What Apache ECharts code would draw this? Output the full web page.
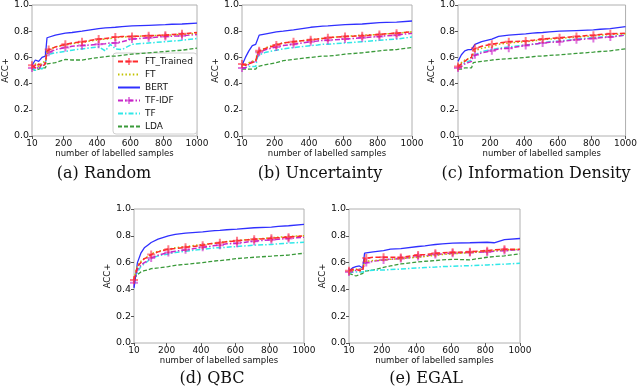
<!DOCTYPE html>
<html>
<head>
<meta charset="utf-8">
<script src="https://cdn.jsdelivr.net/npm/echarts@6/dist/echarts.min.js"></script>
<style>
html, body { margin: 0; padding: 0; background: #fff; }
#main { width: 640px; height: 388px; }
</style>
</head>
<body>
<div id="main"></div>
<script>
var samples = [10, 30, 50, 70, 90, 100, 110, 150, 210, 250, 310, 410, 450, 480, 510, 550, 610, 710, 810, 850, 910, 1000];
var markerSamples = [10, 110, 210, 310, 410, 510, 610, 710, 810, 910];
var xTicks = [10, 200, 400, 600, 800, 1000];
var methods = ['FT_Trained', 'FT', 'BERT', 'TF-IDF', 'TF', 'LDA'];
var captions = ['(a) Random', '(b) Uncertainty', '(c) Information Density', '(d) QBC', '(e) EGAL'];

// (a) Random
var randomFTTrained = [0.54, 0.52, 0.55, 0.53, 0.55, 0.65, 0.66, 0.68, 0.70, 0.71, 0.72, 0.74, 0.745, 0.75, 0.755, 0.76, 0.76, 0.765, 0.77, 0.775, 0.78, 0.79];
var randomFT        = [0.53, 0.55, 0.53, 0.56, 0.57, 0.64, 0.66, 0.68, 0.695, 0.705, 0.715, 0.735, 0.74, 0.745, 0.75, 0.755, 0.76, 0.765, 0.77, 0.772, 0.775, 0.785];
var randomBERT      = [0.54, 0.58, 0.57, 0.60, 0.61, 0.75, 0.76, 0.77, 0.785, 0.79, 0.80, 0.82, 0.825, 0.828, 0.83, 0.835, 0.84, 0.845, 0.85, 0.853, 0.855, 0.862];
var randomTFIDF     = [0.52, 0.54, 0.51, 0.55, 0.56, 0.63, 0.64, 0.66, 0.675, 0.685, 0.69, 0.70, 0.705, 0.71, 0.71, 0.72, 0.74, 0.75, 0.76, 0.762, 0.765, 0.775];
var randomTF        = [0.52, 0.50, 0.53, 0.51, 0.55, 0.62, 0.63, 0.635, 0.645, 0.655, 0.665, 0.68, 0.65, 0.70, 0.665, 0.66, 0.70, 0.71, 0.72, 0.725, 0.73, 0.745];
var randomLDA       = [0.51, 0.50, 0.51, 0.52, 0.52, 0.55, 0.555, 0.56, 0.585, 0.58, 0.58, 0.60, 0.605, 0.61, 0.61, 0.615, 0.625, 0.635, 0.645, 0.65, 0.655, 0.67];

// (b) Uncertainty
var uncertFTTrained = [0.55, 0.54, 0.55, 0.56, 0.57, 0.63, 0.65, 0.67, 0.695, 0.71, 0.72, 0.735, 0.74, 0.745, 0.75, 0.755, 0.76, 0.765, 0.775, 0.78, 0.785, 0.795];
var uncertFT        = [0.54, 0.54, 0.56, 0.57, 0.58, 0.64, 0.655, 0.675, 0.70, 0.71, 0.72, 0.735, 0.74, 0.745, 0.75, 0.755, 0.76, 0.77, 0.775, 0.78, 0.785, 0.795];
var uncertBERT      = [0.54, 0.60, 0.65, 0.69, 0.70, 0.70, 0.77, 0.78, 0.795, 0.80, 0.81, 0.83, 0.835, 0.838, 0.84, 0.845, 0.85, 0.855, 0.865, 0.868, 0.87, 0.878];
var uncertTFIDF     = [0.52, 0.52, 0.55, 0.57, 0.56, 0.62, 0.64, 0.66, 0.68, 0.69, 0.70, 0.72, 0.725, 0.73, 0.73, 0.735, 0.74, 0.75, 0.76, 0.765, 0.77, 0.785];
var uncertTF        = [0.52, 0.52, 0.53, 0.53, 0.53, 0.60, 0.62, 0.64, 0.655, 0.665, 0.675, 0.69, 0.695, 0.70, 0.70, 0.705, 0.71, 0.72, 0.73, 0.735, 0.74, 0.755];
var uncertLDA       = [0.51, 0.51, 0.51, 0.51, 0.51, 0.53, 0.535, 0.545, 0.56, 0.575, 0.585, 0.60, 0.605, 0.61, 0.61, 0.615, 0.625, 0.635, 0.65, 0.655, 0.66, 0.675];

// (c) Information Density
var densFTTrained = [0.53, 0.55, 0.57, 0.59, 0.60, 0.66, 0.67, 0.685, 0.70, 0.71, 0.72, 0.725, 0.73, 0.735, 0.74, 0.745, 0.75, 0.76, 0.77, 0.775, 0.78, 0.785];
var densFT        = [0.54, 0.56, 0.58, 0.59, 0.60, 0.63, 0.65, 0.67, 0.685, 0.70, 0.71, 0.72, 0.725, 0.73, 0.735, 0.74, 0.745, 0.755, 0.765, 0.77, 0.775, 0.78];
var densBERT      = [0.57, 0.62, 0.65, 0.66, 0.66, 0.67, 0.70, 0.72, 0.74, 0.76, 0.77, 0.78, 0.785, 0.788, 0.79, 0.795, 0.80, 0.805, 0.81, 0.815, 0.82, 0.835];
var densTFIDF     = [0.52, 0.53, 0.55, 0.56, 0.57, 0.61, 0.62, 0.635, 0.65, 0.665, 0.67, 0.69, 0.70, 0.705, 0.71, 0.715, 0.72, 0.735, 0.745, 0.75, 0.755, 0.77];
var densTF        = [0.52, 0.54, 0.56, 0.57, 0.58, 0.61, 0.625, 0.645, 0.66, 0.67, 0.68, 0.695, 0.70, 0.705, 0.71, 0.72, 0.725, 0.74, 0.75, 0.755, 0.76, 0.77];
var densLDA       = [0.51, 0.51, 0.52, 0.52, 0.52, 0.56, 0.565, 0.57, 0.58, 0.585, 0.59, 0.60, 0.605, 0.61, 0.61, 0.615, 0.62, 0.63, 0.64, 0.645, 0.65, 0.665];

// (d) QBC
var qbcFTTrained = [0.47, 0.57, 0.60, 0.63, 0.64, 0.65, 0.66, 0.68, 0.70, 0.705, 0.714, 0.729, 0.74, 0.745, 0.749, 0.755, 0.763, 0.774, 0.781, 0.785, 0.79, 0.80];
var qbcFT        = [0.48, 0.58, 0.61, 0.63, 0.645, 0.655, 0.665, 0.685, 0.70, 0.71, 0.72, 0.735, 0.74, 0.745, 0.75, 0.757, 0.765, 0.775, 0.785, 0.79, 0.795, 0.80];
var qbcBERT      = [0.41, 0.60, 0.67, 0.71, 0.73, 0.74, 0.75, 0.775, 0.80, 0.81, 0.82, 0.83, 0.835, 0.838, 0.84, 0.845, 0.85, 0.86, 0.865, 0.87, 0.875, 0.886];
var qbcTFIDF     = [0.45, 0.55, 0.58, 0.60, 0.615, 0.625, 0.635, 0.655, 0.675, 0.685, 0.695, 0.715, 0.72, 0.727, 0.73, 0.74, 0.745, 0.76, 0.77, 0.775, 0.78, 0.79];
var qbcTF        = [0.47, 0.53, 0.57, 0.59, 0.61, 0.625, 0.635, 0.65, 0.665, 0.675, 0.685, 0.70, 0.705, 0.71, 0.71, 0.715, 0.72, 0.73, 0.735, 0.74, 0.745, 0.752];
var qbcLDA       = [0.48, 0.51, 0.53, 0.54, 0.545, 0.55, 0.555, 0.56, 0.57, 0.58, 0.587, 0.60, 0.607, 0.612, 0.615, 0.62, 0.63, 0.64, 0.648, 0.652, 0.656, 0.67];

// (e) EGAL
var egalFTTrained = [0.54, 0.55, 0.55, 0.54, 0.54, 0.63, 0.635, 0.64, 0.64, 0.64, 0.638, 0.657, 0.66, 0.665, 0.669, 0.673, 0.677, 0.681, 0.689, 0.695, 0.70, 0.70];
var egalFT        = [0.53, 0.54, 0.55, 0.55, 0.55, 0.61, 0.612, 0.615, 0.62, 0.625, 0.63, 0.64, 0.645, 0.65, 0.655, 0.66, 0.665, 0.675, 0.685, 0.69, 0.695, 0.698];
var egalBERT      = [0.54, 0.56, 0.57, 0.575, 0.56, 0.67, 0.675, 0.68, 0.69, 0.70, 0.705, 0.72, 0.725, 0.73, 0.735, 0.74, 0.745, 0.748, 0.752, 0.748, 0.772, 0.78];
var egalTFIDF     = [0.53, 0.55, 0.54, 0.55, 0.55, 0.595, 0.60, 0.61, 0.62, 0.625, 0.63, 0.645, 0.65, 0.655, 0.66, 0.665, 0.67, 0.675, 0.68, 0.685, 0.69, 0.695];
var egalTF        = [0.52, 0.53, 0.53, 0.53, 0.53, 0.535, 0.54, 0.542, 0.545, 0.548, 0.552, 0.56, 0.563, 0.565, 0.567, 0.57, 0.573, 0.577, 0.582, 0.585, 0.588, 0.595];
var egalLDA       = [0.52, 0.51, 0.50, 0.51, 0.52, 0.535, 0.54, 0.545, 0.565, 0.575, 0.59, 0.605, 0.61, 0.612, 0.615, 0.62, 0.625, 0.62, 0.64, 0.645, 0.65, 0.665];

var panelData = [
    [randomFTTrained, randomFT, randomBERT, randomTFIDF, randomTF, randomLDA],
    [uncertFTTrained, uncertFT, uncertBERT, uncertTFIDF, uncertTF, uncertLDA],
    [densFTTrained, densFT, densBERT, densTFIDF, densTF, densLDA],
    [qbcFTTrained, qbcFT, qbcBERT, qbcTFIDF, qbcTF, qbcLDA],
    [egalFTTrained, egalFT, egalBERT, egalTFIDF, egalTF, egalLDA]
];

// plot areas in pixels
var boxes = [
    {left: 27, top: 4, width: 170, height: 132},
    {left: 242, top: 4, width: 170, height: 132},
    {left: 458, top: 4, width: 171, height: 132},
    {left: 134, top: 209, width: 170, height: 134},
    {left: 349, top: 209, width: 171, height: 134}
];
var captionPos = [[104, 174], [320, 174], [536, 174], [212, 379], [426, 379]];

var plus = 'path://M3,0H5V3H8V5H5V8H3V5H0V3H3Z';
var styles = [
    {color: '#ff2a2a', type: [5, 2.5], width: 1.5, symbol: plus, mcolor: 'rgba(255,40,60,0.6)', size: 8},
    {color: '#c2c200', type: [1.5, 2.2], width: 1.5},
    {color: '#3030ff', type: 'solid', width: 1.3},
    {color: '#c828c8', type: [5, 2, 1.5, 2], width: 1.5, symbol: plus, mcolor: 'rgba(200,30,200,0.6)', size: 8},
    {color: '#30e8e8', type: [5, 2, 1.5, 2], width: 1.5},
    {color: '#3a9a3a', type: [4, 2], width: 1.3}
];

var font = 'DejaVu Sans';
var grids = [], xAxes = [], yAxes = [], series = [], graphics = [];

boxes.forEach(function (b, p) {
    grids.push({left: b.left, top: b.top, width: b.width, height: b.height,
        show: true, borderColor: '#b0b0b0', borderWidth: 1, backgroundColor: 'transparent'});
    xAxes.push({
        type: 'value', gridIndex: p, min: 10, max: 1000,
        name: 'number of labelled samples', nameLocation: 'middle', nameGap: 9,
        nameTextStyle: {fontFamily: font, fontSize: 8.5, color: '#111'},
        axisLine: {show: false}, splitLine: {show: false},
        axisTick: {show: true, length: 3, customValues: xTicks, lineStyle: {color: '#555'}},
        axisLabel: {customValues: xTicks, margin: 3, fontFamily: font, fontSize: 9, color: '#111',
            formatter: function (v) { return String(v); }}
    });
    yAxes.push({
        type: 'value', gridIndex: p, min: 0, max: 1, interval: 0.2,
        name: 'ACC+', nameLocation: 'middle', nameGap: 16,
        nameTextStyle: {fontFamily: font, fontSize: 8.5, color: '#111'},
        axisLine: {show: false}, splitLine: {show: false},
        axisTick: {show: true, length: 3, lineStyle: {color: '#555'}},
        axisLabel: {margin: 3, fontFamily: font, fontSize: 9.5, color: '#111',
            formatter: function (v) { return v.toFixed(1); }}
    });
    panelData[p].forEach(function (vals, m) {
        var st = styles[m];
        var data = samples.map(function (x, i) {
            var item = {value: [x, vals[i]]};
            if (!st.symbol || markerSamples.indexOf(x) < 0) item.symbol = 'none';
            return item;
        });
        series.push({
            name: methods[m], type: 'line', xAxisIndex: p, yAxisIndex: p,
            data: data, symbol: st.symbol || 'none', symbolSize: st.size || 0,
            showSymbol: !!st.symbol, showAllSymbol: true,
            lineStyle: {color: st.color, type: st.type, width: st.width},
            itemStyle: {color: st.mcolor || st.color, borderWidth: 0},
            z: 10 - m
        });
    });
    graphics.push({
        type: 'text', x: captionPos[p][0], y: captionPos[p][1],
        style: {text: captions[p], font: '16px "DejaVu Serif"', fill: '#111',
            textAlign: 'center', textVerticalAlign: 'middle'}
    });
});

var legendItems = methods.map(function (name, m) {
    var item = {name: name};
    if (!styles[m].symbol) item.itemStyle = {opacity: 0};
    return item;
});

var chart = echarts.init(document.getElementById('main'));
chart.setOption({
    animation: false,
    backgroundColor: '#fff',
    grid: grids,
    xAxis: xAxes,
    yAxis: yAxes,
    legend: {
        data: legendItems, orient: 'vertical', left: 113, top: 53,
        padding: [4, 4, 3, 4], itemGap: 4, itemWidth: 22, itemHeight: 9,
        borderColor: '#d0d0d0', borderWidth: 1, borderRadius: 3,
        backgroundColor: 'rgba(255,255,255,0.85)',
        textStyle: {fontFamily: font, fontSize: 9, color: '#111'}
    },
    series: series,
    graphic: graphics
});
</script>
</body>
</html>
